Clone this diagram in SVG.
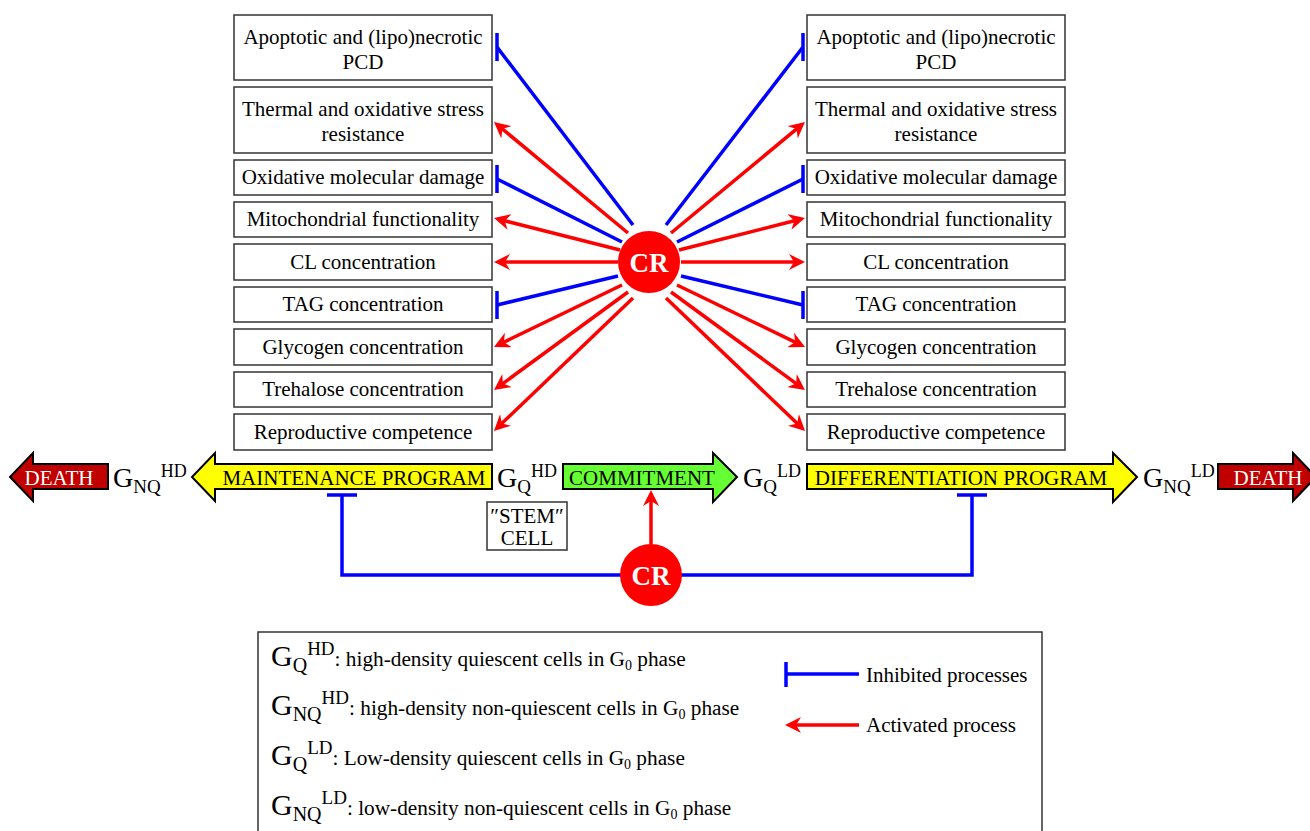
<svg xmlns="http://www.w3.org/2000/svg" width="1310" height="831" viewBox="0 0 1310 831">
<style>
.box{fill:#fff;stroke:#333;stroke-width:1.5}
.t{font-family:"Liberation Serif","Times New Roman",serif;font-size:21px;fill:#000}
.lg{font-size:21.3px}
.m{text-anchor:middle}
.w{fill:#fff}
.act{stroke:#f00;stroke-width:3.5;fill:none;marker-end:url(#ah)}
.inh{stroke:#00f;stroke-width:3.5;fill:none}
.big{stroke:#000;stroke-width:2}
.cr{fill:#f00}
.crt{font-family:"Liberation Serif","Times New Roman",serif;font-size:27px;font-weight:bold;fill:#fff;text-anchor:middle}
</style>
<defs>
<marker id="ah" markerUnits="userSpaceOnUse" markerWidth="16" markerHeight="16" viewBox="0 0 16 16" refX="6" refY="8" orient="auto">
<path d="M0,0 L16,8 L0,16 L5,8 Z" fill="#f00"/>
</marker>
</defs>
<rect width="1310" height="831" fill="#fff"/>

<g id="connectors">
<line class="act" x1="628" y1="233" x2="501.7" y2="128.4"/>
<line class="act" x1="620" y1="250" x2="503.7" y2="220.5"/>
<line class="act" x1="618" y1="262" x2="504" y2="262"/>
<line class="act" x1="622" y1="285" x2="503" y2="342.6"/>
<line class="act" x1="628" y1="292" x2="502.1" y2="384.1"/>
<line class="act" x1="633" y1="298" x2="501.2" y2="424.1"/>
<line class="act" x1="671" y1="233" x2="797.3" y2="128.4"/>
<line class="act" x1="679" y1="250" x2="795.3" y2="220.5"/>
<line class="act" x1="681" y1="262" x2="795" y2="262"/>
<line class="act" x1="677" y1="285" x2="796" y2="342.6"/>
<line class="act" x1="671" y1="292" x2="796.9" y2="384.1"/>
<line class="act" x1="666" y1="298" x2="797.8" y2="424.1"/>
<line class="inh" x1="633" y1="225" x2="497" y2="47"/>
<line class="inh" x1="497" y1="33" x2="497" y2="61"/>
<line class="inh" x1="622" y1="242" x2="497" y2="179"/>
<line class="inh" x1="497" y1="165" x2="497" y2="193"/>
<line class="inh" x1="618" y1="276" x2="497" y2="305"/>
<line class="inh" x1="497" y1="291" x2="497" y2="319"/>
<line class="inh" x1="666" y1="225" x2="803" y2="47"/>
<line class="inh" x1="803" y1="33" x2="803" y2="61"/>
<line class="inh" x1="677" y1="242" x2="803" y2="179"/>
<line class="inh" x1="803" y1="165" x2="803" y2="193"/>
<line class="inh" x1="681" y1="276" x2="803" y2="305"/>
<line class="inh" x1="803" y1="291" x2="803" y2="319"/>
<line class="act" x1="651" y1="544" x2="651" y2="500"/>
<polyline class="inh" points="342,495 342,575 972,575 972,495"/>
<line class="inh" x1="327" y1="495" x2="357" y2="495"/>
<line class="inh" x1="957" y1="495" x2="987" y2="495"/>
</g>

<g id="cr-top"><circle class="cr" cx="649" cy="262" r="31"/><text class="crt" x="649" y="272">CR</text></g>
<g id="cr-bottom"><circle class="cr" cx="651" cy="575" r="31"/><text class="crt" x="651" y="585">CR</text></g>

<g id="left-apoptotic"><rect class="box" x="234" y="15" width="258" height="65"/><text class="t m" x="363" y="44">Apoptotic and (lipo)necrotic</text><text class="t m" x="363" y="69">PCD</text></g>
<g id="left-thermal"><rect class="box" x="234" y="87" width="258" height="66"/><text class="t m" x="363" y="116">Thermal and oxidative stress</text><text class="t m" x="363" y="141">resistance</text></g>
<g id="left-oxidative"><rect class="box" x="234" y="160" width="258" height="35"/><text class="t m" x="363" y="184">Oxidative molecular damage</text></g>
<g id="left-mito"><rect class="box" x="234" y="202" width="258" height="35"/><text class="t m" x="363" y="226">Mitochondrial functionality</text></g>
<g id="left-cl"><rect class="box" x="234" y="244" width="258" height="36"/><text class="t m" x="363" y="269">CL concentration</text></g>
<g id="left-tag"><rect class="box" x="234" y="287" width="258" height="35"/><text class="t m" x="363" y="311">TAG concentration</text></g>
<g id="left-glycogen"><rect class="box" x="234" y="329" width="258" height="36"/><text class="t m" x="363" y="354">Glycogen concentration</text></g>
<g id="left-trehalose"><rect class="box" x="234" y="372" width="258" height="35"/><text class="t m" x="363" y="396">Trehalose concentration</text></g>
<g id="left-repro"><rect class="box" x="234" y="414" width="258" height="36"/><text class="t m" x="363" y="439">Reproductive competence</text></g>

<g id="right-apoptotic"><rect class="box" x="807" y="15" width="258" height="65"/><text class="t m" x="936" y="44">Apoptotic and (lipo)necrotic</text><text class="t m" x="936" y="69">PCD</text></g>
<g id="right-thermal"><rect class="box" x="807" y="87" width="258" height="66"/><text class="t m" x="936" y="116">Thermal and oxidative stress</text><text class="t m" x="936" y="141">resistance</text></g>
<g id="right-oxidative"><rect class="box" x="807" y="160" width="258" height="35"/><text class="t m" x="936" y="184">Oxidative molecular damage</text></g>
<g id="right-mito"><rect class="box" x="807" y="202" width="258" height="35"/><text class="t m" x="936" y="226">Mitochondrial functionality</text></g>
<g id="right-cl"><rect class="box" x="807" y="244" width="258" height="36"/><text class="t m" x="936" y="269">CL concentration</text></g>
<g id="right-tag"><rect class="box" x="807" y="287" width="258" height="35"/><text class="t m" x="936" y="311">TAG concentration</text></g>
<g id="right-glycogen"><rect class="box" x="807" y="329" width="258" height="36"/><text class="t m" x="936" y="354">Glycogen concentration</text></g>
<g id="right-trehalose"><rect class="box" x="807" y="372" width="258" height="35"/><text class="t m" x="936" y="396">Trehalose concentration</text></g>
<g id="right-repro"><rect class="box" x="807" y="414" width="258" height="36"/><text class="t m" x="936" y="439">Reproductive competence</text></g>

<g id="death-left"><path class="big" fill="#C00000" d="M108,464 L33,464 L33,453 L10,477 L33,501 L33,489 L108,489 Z"/><text class="t m w" x="59" y="485" font-size="20">DEATH</text></g>
<g id="gnq-hd"><text class="t" x="113" y="487"><tspan font-size="28">G</tspan><tspan font-size="19" dy="6">NQ</tspan><tspan font-size="18" dy="-16">HD</tspan></text></g>
<g id="maintenance"><path class="big" fill="#FFFF00" d="M492,464 L215,464 L215,453 L192,477 L215,501 L215,489 L492,489 Z"/><text class="t m" x="354" y="485">MAINTENANCE PROGRAM</text></g>
<g id="gq-hd"><text class="t" x="497" y="487"><tspan font-size="28">G</tspan><tspan font-size="19" dy="6">Q</tspan><tspan font-size="18" dy="-16">HD</tspan></text></g>
<g id="stem"><rect class="box" x="487" y="502" width="80" height="48"/><text class="t m" x="527" y="523">″STEM″</text><text class="t m" x="527" y="545">CELL</text></g>
<g id="commitment"><path class="big" fill="#66FF33" d="M563,464 L713,464 L713,453 L737,477 L713,502 L713,489 L563,489 Z"/><text class="t m" x="642" y="485">COMMITMENT</text></g>
<g id="gq-ld"><text class="t" x="743" y="487"><tspan font-size="28">G</tspan><tspan font-size="19" dy="6">Q</tspan><tspan font-size="18" dy="-16">LD</tspan></text></g>
<g id="differentiation"><path class="big" fill="#FFFF00" d="M807,464 L1113,464 L1113,453 L1137,477 L1113,502 L1113,489 L807,489 Z"/><text class="t m" x="961" y="485">DIFFERENTIATION PROGRAM</text></g>
<g id="gnq-ld"><text class="t" x="1143" y="487"><tspan font-size="28">G</tspan><tspan font-size="19" dy="6">NQ</tspan><tspan font-size="18" dy="-16">LD</tspan></text></g>
<g id="death-right"><path class="big" fill="#C00000" d="M1218,464 L1293,464 L1293,453 L1316,477 L1293,501 L1293,489 L1218,489 Z"/><text class="t m w" x="1268" y="485" font-size="20">DEATH</text></g>

<g id="legend">
<rect class="box" x="258" y="632" width="784" height="215"/>
<text class="t lg" x="271" y="666"><tspan font-size="30">G</tspan><tspan font-size="20" dy="6">Q</tspan><tspan font-size="19" dy="-17">HD</tspan><tspan dy="11">: high-density quiescent cells in G</tspan><tspan font-size="14" dy="4">0</tspan><tspan dy="-4"> phase</tspan></text>
<text class="t lg" x="271" y="715"><tspan font-size="30">G</tspan><tspan font-size="20" dy="6">NQ</tspan><tspan font-size="19" dy="-17">HD</tspan><tspan dy="11">: high-density non-quiescent cells in G</tspan><tspan font-size="14" dy="4">0</tspan><tspan dy="-4"> phase</tspan></text>
<text class="t lg" x="271" y="765"><tspan font-size="30">G</tspan><tspan font-size="20" dy="6">Q</tspan><tspan font-size="19" dy="-17">LD</tspan><tspan dy="11">: Low-density quiescent cells in G</tspan><tspan font-size="14" dy="4">0</tspan><tspan dy="-4"> phase</tspan></text>
<text class="t lg" x="271" y="815"><tspan font-size="30">G</tspan><tspan font-size="20" dy="6">NQ</tspan><tspan font-size="19" dy="-17">LD</tspan><tspan dy="11">: low-density non-quiescent cells in G</tspan><tspan font-size="14" dy="4">0</tspan><tspan dy="-4"> phase</tspan></text>
<line class="inh" x1="786" y1="674" x2="859" y2="674"/>
<line class="inh" x1="786" y1="662" x2="786" y2="687"/>
<text class="t" x="866" y="682">Inhibited processes</text>
<line class="act" x1="859" y1="725" x2="795" y2="725"/>
<text class="t" x="866" y="732">Activated process</text>
</g>
</svg>
